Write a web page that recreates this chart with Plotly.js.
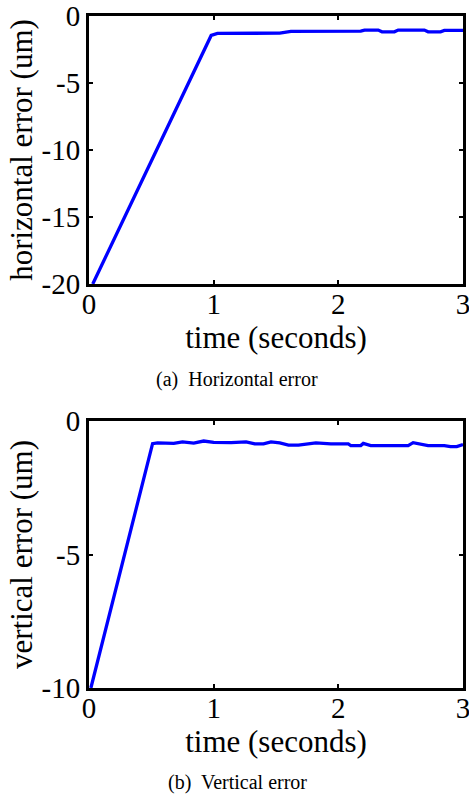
<!DOCTYPE html>
<html>
<head>
<meta charset="utf-8">
<script src="https://cdn.plot.ly/plotly-3.0.1.min.js"></script>
<style>
html,body{margin:0;padding:0;background:#fff;}
#chart{width:469px;height:797px;}
</style>
</head>
<body>
<div id="chart"></div>
<script>
// Horizontal error (top panel)
const hTime  = [0.03, 0.98, 1.03, 1.53, 1.62, 2.18, 2.21, 2.32, 2.35, 2.45, 2.48, 2.69, 2.72, 2.82, 2.85, 3.0];
const hError = [-20, -1.45, -1.3, -1.28, -1.15, -1.13, -1.05, -1.05, -1.18, -1.18, -1.05, -1.05, -1.18, -1.18, -1.08, -1.08];

// Vertical error (bottom panel)
const vTime  = [0.015, 0.51, 0.55, 0.68, 0.75, 0.84, 0.92, 1.0, 1.14, 1.22, 1.26, 1.33, 1.4, 1.46, 1.53, 1.6, 1.68, 1.82, 1.94, 2.08, 2.1, 2.18, 2.2, 2.26, 2.56, 2.6, 2.66, 2.72, 2.85, 2.9, 2.95, 3.0];
const vError = [-10, -0.85, -0.82, -0.84, -0.78, -0.83, -0.75, -0.8, -0.81, -0.77, -0.78, -0.86, -0.86, -0.78, -0.82, -0.9, -0.9, -0.82, -0.86, -0.86, -0.92, -0.92, -0.84, -0.92, -0.92, -0.81, -0.85, -0.92, -0.92, -0.96, -0.96, -0.88];

// Tick values / labels
const xTickVals = [0, 1, 2, 3];
const xTickText = ['0', '1', '2', '3'];
const hTickVals = [-20, -15, -10, -5, 0];
const hTickText = ['-20', '-15', '-10', '-5', '0'];
const vTickVals = [-10, -5, 0];
const vTickText = ['-10', '-5', '0'];

const xTitle = 'time (seconds)';
const hTitle = 'horizontal error (um)';
const vTitle = 'vertical error (um)';
const captions = ['(a)  Horizontal error', '(b)  Vertical error'];

const FONT = '"Liberation Serif", "Times New Roman", Times, serif';
const lineStyle = {color: '#0000ff', width: 3.3};

const traces = [
  {x: hTime, y: hError, type: 'scatter', mode: 'lines', line: lineStyle, xaxis: 'x', yaxis: 'y', hoverinfo: 'none'},
  {x: vTime, y: vError, type: 'scatter', mode: 'lines', line: lineStyle, xaxis: 'x2', yaxis: 'y2', hoverinfo: 'none'}
];

function xAxis(anchor) {
  return {
    domain: [0, 1], anchor: anchor, range: [0, 3],
    tickvals: xTickVals, ticktext: xTickText,
    ticks: 'inside', ticklen: 4, tickwidth: 2, tickcolor: '#000',
    showline: true, linewidth: 3, linecolor: '#000', mirror: 'ticks',
    showgrid: false, zeroline: false, ticklabeloverflow: 'allow',
    ticklabelstandoff: -8,
    tickfont: {family: FONT, size: 29, color: '#000'},
    title: {text: xTitle, font: {family: FONT, size: 31, color: '#000'}, standoff: 3}
  };
}
function yAxis(anchor, domain, range, tv, tt, title) {
  return {
    domain: domain, anchor: anchor, range: range,
    tickvals: tv, ticktext: tt,
    ticks: 'inside', ticklen: 4, tickwidth: 2, tickcolor: '#000',
    showline: true, linewidth: 3, linecolor: '#000', mirror: 'ticks',
    showgrid: false, zeroline: false, ticklabeloverflow: 'allow',
    tickfont: {family: FONT, size: 29, color: '#000'},
    title: {text: title, font: {family: FONT, size: 31, color: '#000'}, standoff: 0}
  };
}

const H = 797;
const layout = {
  width: 469, height: 797,
  margin: {l: 89, r: 6, t: 0, b: 0},
  paper_bgcolor: '#fff', plot_bgcolor: '#fff',
  showlegend: false,
  font: {family: FONT, color: '#000'},
  xaxis: xAxis('y'),
  yaxis: yAxis('x', [1 - 284 / H, 1 - 16 / H], [-20, 0], hTickVals, hTickText, hTitle),
  xaxis2: xAxis('y2'),
  yaxis2: yAxis('x2', [1 - 688 / H, 1 - 421 / H], [-10, 0], vTickVals, vTickText, vTitle),
  annotations: [
    {text: captions[0], xref: 'paper', yref: 'paper', x: (237 - 89) / 374, y: 1 - 379 / H,
     xanchor: 'center', yanchor: 'middle', showarrow: false, font: {family: FONT, size: 20, color: '#000'}},
    {text: captions[1], xref: 'paper', yref: 'paper', x: (237 - 89) / 374, y: 1 - 782 / H,
     xanchor: 'center', yanchor: 'middle', showarrow: false, font: {family: FONT, size: 20, color: '#000'}}
  ]
};

Plotly.newPlot('chart', traces, layout, {staticPlot: true, displayModeBar: false});
</script>
</body>
</html>
